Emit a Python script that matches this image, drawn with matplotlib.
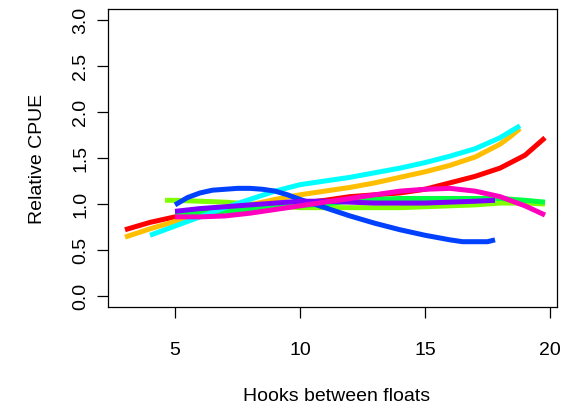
import matplotlib
matplotlib.use("Agg")
import matplotlib.pyplot as plt

# fitted relative CPUE curves, one per group
red_x = [3, 4, 5, 6, 7, 8, 9, 10, 11, 12, 13, 14, 15, 16, 17, 18, 19, 19.8]
red_y = [0.72, 0.80, 0.86, 0.90, 0.93, 0.96, 0.99, 1.01, 1.04, 1.08, 1.10, 1.12, 1.16, 1.23, 1.30, 1.39, 1.53, 1.72]

orange_x = [3, 4, 5, 6, 7, 8, 9, 10, 11, 12, 13, 14, 15, 16, 17, 18, 18.4, 18.8]
orange_y = [0.64, 0.73, 0.81, 0.88, 0.94, 0.99, 1.05, 1.10, 1.14, 1.18, 1.23, 1.29, 1.35, 1.42, 1.51, 1.65, 1.73, 1.82]

lime_x = [4.6, 5, 6, 7, 8, 9, 10, 11, 12, 13, 14, 15, 16, 17, 18, 19, 19.8]
lime_y = [1.04, 1.04, 1.03, 1.02, 1.00, 0.98, 0.96, 0.96, 0.96, 0.96, 0.96, 0.97, 0.98, 0.99, 1.01, 1.01, 1.00]

green_x = [5, 6, 7, 8, 9, 10, 11, 12, 13, 14, 15, 16, 17, 18, 19, 19.8]
green_y = [0.89, 0.90, 0.92, 0.94, 0.96, 0.98, 1.00, 1.03, 1.05, 1.06, 1.06, 1.06, 1.06, 1.06, 1.04, 1.02]

cyan_x = [4, 5, 6, 7, 8, 9, 10, 11, 12, 13, 14, 15, 16, 17, 18, 18.8]
cyan_y = [0.66, 0.76, 0.86, 0.96, 1.05, 1.14, 1.21, 1.25, 1.29, 1.34, 1.39, 1.45, 1.52, 1.60, 1.72, 1.85]

blue_x = [5, 5.5, 6, 6.5, 7, 7.5, 8, 8.5, 9, 9.5, 10, 11, 12, 13, 14, 15, 16, 16.5, 17, 17.5, 17.8]
blue_y = [0.99, 1.07, 1.12, 1.15, 1.16, 1.17, 1.17, 1.16, 1.14, 1.10, 1.05, 0.96, 0.87, 0.79, 0.72, 0.66, 0.61, 0.59, 0.59, 0.59, 0.61]

purple_x = [5, 6, 7, 8, 9, 10, 11, 12, 13, 14, 15, 16, 17, 17.8]
purple_y = [0.92, 0.95, 0.97, 0.99, 1.01, 1.03, 1.03, 1.02, 1.01, 1.01, 1.01, 1.02, 1.03, 1.04]

pink_x = [5, 6, 7, 8, 9, 10, 11, 12, 13, 14, 15, 16, 17, 18, 19, 19.8]
pink_y = [0.86, 0.86, 0.87, 0.90, 0.94, 0.98, 1.02, 1.06, 1.10, 1.14, 1.16, 1.17, 1.14, 1.08, 0.98, 0.88]

x_ticks = [5, 10, 15, 20]
y_ticks = [0.0, 0.5, 1.0, 1.5, 2.0, 2.5, 3.0]

# R's rainbow(8)
all_color = ['#FF0000', '#FFBF00', '#80FF00', '#00FF40',
             '#00FFFF', '#0040FF', '#8000FF', '#FF00BF']


def main():
    plt.rcParams['font.family'] = ['Liberation Sans', 'DejaVu Sans']
    plt.rcParams['font.size'] = 14

    fig = plt.figure(figsize=(5.74, 4.07), dpi=100)
    ax = fig.add_axes([108 / 574, 1 - 307 / 407, (557 - 108) / 574, (307 - 9) / 407])

    series = [(red_x, red_y), (orange_x, orange_y), (lime_x, lime_y), (green_x, green_y),
              (cyan_x, cyan_y), (blue_x, blue_y), (purple_x, purple_y), (pink_x, pink_y)]
    for i, (xs, ys) in enumerate(series):
        ax.plot(xs, ys, color=all_color[i], linewidth=3.6, solid_capstyle='butt')

    ax.set_xlim(2.32, 20.28)
    ax.set_ylim(-0.12, 3.12)
    ax.set_xticks(x_ticks)
    ax.set_xticklabels([str(t) for t in x_ticks])
    ax.set_yticks(y_ticks)
    ax.set_yticklabels(["{:.1f}".format(t) for t in y_ticks], rotation=90, va='center')

    for s in ax.spines.values():
        s.set_linewidth(0.9)
        s.set_color('black')
    ax.tick_params(axis='x', length=8, width=0.9, pad=17.5)
    ax.tick_params(axis='y', length=8, width=0.9, pad=5.5)

    fig.text(336.5 / 574, 1 - 401 / 407, "Hooks between floats", ha='center', va='baseline')
    fig.text(42 / 574, 1 - 159 / 407, "Relative CPUE", rotation=90, rotation_mode='anchor',
             ha='center', va='baseline')

    plt.savefig('out.png', dpi=100)
    plt.close('all')


if __name__ == "__main__":
    main()
